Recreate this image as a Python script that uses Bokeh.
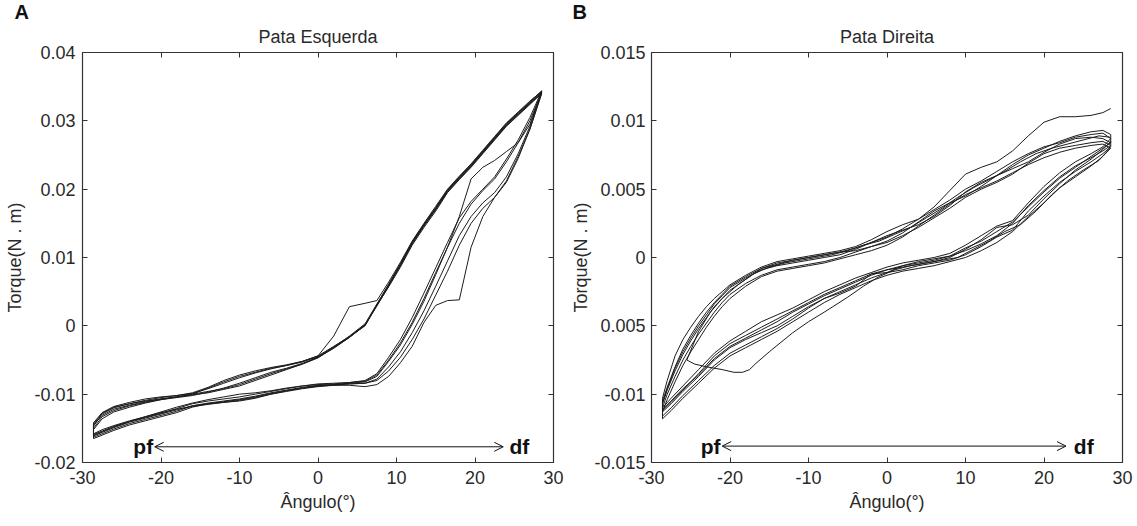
from bokeh.plotting import figure
from bokeh.layouts import row
from bokeh.models import FixedTicker, LinearAxis, Label, Arrow, OpenHead, Range1d, Title
from bokeh.embed import file_html
from bokeh.resources import INLINE

FONT = "Liberation Sans"
INK = "#1c1c1c"
FRAME = "#333333"
TXT = "#2a2a2a"

# ---------------- Panel A: Pata Esquerda ----------------
angle_out_A = [-28.6, -27.5, -26, -24, -22, -20, -18, -16, -14, -12, -10, -8, -6, -4, -2, 0, 2, 4, 6,
               7.5, 9, 10.5, 12, 13.5, 15, 16.5, 18, 19.5, 21, 22.5, 24, 25.5, 27, 28.5]
angle_ret_A = [28.5, 27, 25.5, 24, 22.5, 21, 19.5, 18, 16.5, 15, 13.5, 12, 10.5, 9, 7.5, 6, 4, 2, 0,
               -2, -4, -6, -8, -10, -12, -14, -16, -18, -20, -22, -24, -26, -27.5, -28.6]

torque_out_A1 = [-0.0160, -0.0155, -0.0148, -0.0140, -0.0134, -0.0128, -0.0121, -0.0114, -0.0110, -0.0107,
                 -0.0104, -0.0100, -0.0096, -0.0092, -0.0088, -0.0085, -0.0084, -0.0083, -0.0081, -0.0072,
                 -0.0050, -0.0025, 0.0005, 0.0040, 0.0078, 0.0115, 0.0150, 0.0178, 0.0198, 0.0215,
                 0.0240, 0.0268, 0.0300, 0.0342]
torque_out_A2 = [-0.0163, -0.0158, -0.0151, -0.0143, -0.0137, -0.0131, -0.0125, -0.0117, -0.0113, -0.0110,
                 -0.0107, -0.0103, -0.0098, -0.0094, -0.0090, -0.0087, -0.0086, -0.0085, -0.0084, -0.0078,
                 -0.0060, -0.0038, -0.0010, 0.0022, 0.0058, 0.0095, 0.0132, 0.0160, 0.0180, 0.0195,
                 0.0218, 0.0252, 0.0292, 0.0343]
torque_out_A3 = [-0.0158, -0.0152, -0.0146, -0.0139, -0.0133, -0.0127, -0.0122, -0.0118, -0.0115, -0.0112,
                 -0.0110, -0.0106, -0.0100, -0.0095, -0.0091, -0.0088, -0.0087, -0.0087, -0.0089, -0.0086,
                 -0.0074, -0.0054, -0.0030, 0.0005, 0.0030, 0.0037, 0.0038, 0.0115, 0.0160, 0.0188,
                 0.0212, 0.0248, 0.0288, 0.0340]
torque_out_A4 = [-0.0165, -0.0160, -0.0153, -0.0145, -0.0139, -0.0133, -0.0127, -0.0119, -0.0114, -0.0111,
                 -0.0108, -0.0104, -0.0099, -0.0095, -0.0091, -0.0088, -0.0086, -0.0084, -0.0082, -0.0074,
                 -0.0052, -0.0028, 0.0002, 0.0036, 0.0075, 0.0115, 0.0160, 0.0215, 0.0232, 0.0242,
                 0.0255, 0.0268, 0.0295, 0.0343]
torque_out_A5 = [-0.0161, -0.0156, -0.0149, -0.0141, -0.0135, -0.0129, -0.0123, -0.0117, -0.0114, -0.0112,
                 -0.0109, -0.0105, -0.0100, -0.0096, -0.0092, -0.0089, -0.0087, -0.0085, -0.0084, -0.0080,
                 -0.0066, -0.0046, -0.0020, 0.0010, 0.0045, 0.0080, 0.0118, 0.0150, 0.0172, 0.0188,
                 0.0210, 0.0245, 0.0288, 0.0341]
torque_out_A6 = [-0.0159, -0.0154, -0.0147, -0.0140, -0.0133, -0.0126, -0.0119, -0.0113, -0.0108, -0.0104,
                 -0.0100, -0.0098, -0.0095, -0.0091, -0.0088, -0.0086, -0.0085, -0.0083, -0.0080, -0.0070,
                 -0.0046, -0.0020, 0.0012, 0.0048, 0.0085, 0.0122, 0.0158, 0.0182, 0.0200, 0.0218,
                 0.0244, 0.0272, 0.0305, 0.0344]

torque_ret_A1 = [0.0342, 0.0326, 0.0309, 0.0293, 0.0273, 0.0253, 0.0233, 0.0215, 0.0196, 0.0170,
                 0.0146, 0.0120, 0.0089, 0.0060, 0.0032, 0.0003, -0.0015, -0.0031, -0.0045, -0.0053,
                 -0.0058, -0.0063, -0.0069, -0.0076, -0.0084, -0.0092, -0.0099, -0.0102, -0.0105, -0.0109,
                 -0.0114, -0.0120, -0.0129, -0.0147]
torque_ret_A2 = [0.0343, 0.0327, 0.0311, 0.0295, 0.0276, 0.0256, 0.0236, 0.0218, 0.0199, 0.0173,
                 0.0149, 0.0123, 0.0091, 0.0061, 0.0031, 0.0001, -0.0017, -0.0033, -0.0046, -0.0055,
                 -0.0062, -0.0068, -0.0076, -0.0084, -0.0091, -0.0097, -0.0102, -0.0105, -0.0108, -0.0112,
                 -0.0117, -0.0124, -0.0133, -0.0150]
torque_ret_A3 = [0.0340, 0.0324, 0.0308, 0.0292, 0.0272, 0.0252, 0.0232, 0.0214, 0.0195, 0.0168,
                 0.0144, 0.0118, 0.0086, 0.0057, 0.0030, 0.0000, -0.0016, -0.0032, -0.0047, -0.0056,
                 -0.0064, -0.0072, -0.0080, -0.0088, -0.0093, -0.0098, -0.0101, -0.0104, -0.0107, -0.0111,
                 -0.0116, -0.0122, -0.0131, -0.0145]
torque_ret_A4 = [0.0343, 0.0329, 0.0313, 0.0297, 0.0277, 0.0257, 0.0237, 0.0219, 0.0200, 0.0175,
                 0.0150, 0.0124, 0.0093, 0.0064, 0.0037, 0.0033, 0.0028, -0.0015, -0.0044, -0.0052,
                 -0.0057, -0.0061, -0.0066, -0.0072, -0.0080, -0.0090, -0.0098, -0.0102, -0.0104, -0.0107,
                 -0.0112, -0.0118, -0.0127, -0.0142]
torque_ret_A5 = [0.0341, 0.0325, 0.0310, 0.0294, 0.0274, 0.0254, 0.0234, 0.0216, 0.0197, 0.0171,
                 0.0147, 0.0121, 0.0088, 0.0059, 0.0030, 0.0001, -0.0017, -0.0032, -0.0046, -0.0056,
                 -0.0063, -0.0070, -0.0078, -0.0086, -0.0092, -0.0096, -0.0100, -0.0104, -0.0108, -0.0113,
                 -0.0119, -0.0126, -0.0136, -0.0152]
torque_ret_A6 = [0.0344, 0.0328, 0.0312, 0.0296, 0.0275, 0.0255, 0.0235, 0.0217, 0.0198, 0.0172,
                 0.0148, 0.0122, 0.0090, 0.0058, 0.0029, 0.0002, -0.0016, -0.0030, -0.0044, -0.0052,
                 -0.0058, -0.0062, -0.0068, -0.0074, -0.0082, -0.0091, -0.0100, -0.0104, -0.0107, -0.0110,
                 -0.0114, -0.0119, -0.0128, -0.0144]

# ---------------- Panel B: Pata Direita ----------------
angle_ret_B = [28.5, 27.5, 26, 24, 22, 20, 18, 16, 14, 12, 10, 8, 6, 4, 2, 0, -2, -4, -6, -8,
               -10, -12, -14, -16, -18, -20, -21, -22, -23, -24, -25, -26, -27, -28, -28.6]
angle_out_B = [-28.6, -27.5, -26, -24, -22, -20, -18, -16, -14, -12, -10, -8, -6, -4, -2, 0, 2, 4, 6, 8,
               10, 12, 14, 16, 18, 20, 22, 24, 26, 27.5, 28.5]

torque_ret_B1 = [0.0084, 0.0087, 0.0088, 0.0087, 0.0083, 0.0077, 0.0070, 0.0065, 0.0060, 0.0055,
                 0.0048, 0.0038, 0.0030, 0.0024, 0.0020, 0.0016, 0.0011, 0.0006, 0.0002, 0.0000,
                 -0.0002, -0.0004, -0.0006, -0.0009, -0.0015, -0.0022, -0.0028, -0.0034, -0.0042, -0.0050,
                 -0.0059, -0.0069, -0.0081, -0.0096, -0.0107]
torque_ret_B2 = [0.0090, 0.0093, 0.0092, 0.0089, 0.0085, 0.0080, 0.0075, 0.0068, 0.0060, 0.0052,
                 0.0045, 0.0040, 0.0034, 0.0026, 0.0018, 0.0012, 0.0008, 0.0005, 0.0004, 0.0002,
                 0.0000, -0.0002, -0.0005, -0.0008, -0.0014, -0.0021, -0.0027, -0.0033, -0.0040, -0.0048,
                 -0.0057, -0.0067, -0.0080, -0.0095, -0.0105]
torque_ret_B3 = [0.0082, 0.0085, 0.0084, 0.0082, 0.0080, 0.0076, 0.0069, 0.0061, 0.0055, 0.0050,
                 0.0044, 0.0036, 0.0029, 0.0022, 0.0016, 0.0011, 0.0008, 0.0004, 0.0000, -0.0003,
                 -0.0005, -0.0007, -0.0009, -0.0013, -0.0019, -0.0027, -0.0033, -0.0040, -0.0048, -0.0056,
                 -0.0065, -0.0075, -0.0087, -0.0100, -0.0110]
torque_ret_B4 = [0.0087, 0.0091, 0.0090, 0.0088, 0.0084, 0.0081, 0.0076, 0.0070, 0.0063, 0.0056,
                 0.0050, 0.0042, 0.0035, 0.0028, 0.0024, 0.0019, 0.0013, 0.0008, 0.0005, 0.0003,
                 0.0001, -0.0001, -0.0003, -0.0007, -0.0013, -0.0020, -0.0025, -0.0030, -0.0036, -0.0043,
                 -0.0051, -0.0060, -0.0072, -0.0090, -0.0103]
torque_ret_B5 = [0.0080, 0.0083, 0.0082, 0.0080, 0.0077, 0.0073, 0.0068, 0.0062, 0.0056, 0.0051,
                 0.0046, 0.0039, 0.0031, 0.0023, 0.0015, 0.0009, 0.0005, 0.0002, -0.0001, -0.0004,
                 -0.0006, -0.0008, -0.0010, -0.0014, -0.0021, -0.0030, -0.0036, -0.0043, -0.0051, -0.0060,
                 -0.0069, -0.0079, -0.0091, -0.0104, -0.0113]
torque_ret_B7 = [0.0109, 0.0106, 0.0104, 0.0103, 0.0103, 0.0099, 0.0089, 0.0078, 0.0070, 0.0066,
                 0.0061, 0.0049, 0.0037, 0.0028, 0.0021, 0.0015, 0.0011, 0.0007, 0.0004, 0.0002,
                 0.0000, -0.0002, -0.0004, -0.0008, -0.0016, -0.0024, -0.0030, -0.0036, -0.0044, -0.0052,
                 -0.0061, -0.0071, -0.0083, -0.0097, -0.0107]

torque_out_B1 = [-0.0112, -0.0106, -0.0097, -0.0085, -0.0072, -0.0063, -0.0057, -0.0051, -0.0045, -0.0039,
                 -0.0033, -0.0027, -0.0022, -0.0017, -0.0012, -0.0009, -0.0007, -0.0005, -0.0003, 0.0000,
                 0.0006, 0.0013, 0.0022, 0.0024, 0.0031, 0.0043, 0.0054, 0.0064, 0.0072, 0.0079, 0.0085]
torque_out_B2 = [-0.0116, -0.0110, -0.0101, -0.0090, -0.0079, -0.0070, -0.0064, -0.0058, -0.0052, -0.0045,
                 -0.0037, -0.0030, -0.0025, -0.0020, -0.0015, -0.0011, -0.0006, -0.0003, -0.0001, 0.0001,
                 0.0005, 0.0010, 0.0016, 0.0025, 0.0038, 0.0049, 0.0059, 0.0067, 0.0073, 0.0078, 0.0082]
torque_out_B3 = [-0.0113, -0.0107, -0.0098, -0.0087, -0.0075, -0.0066, -0.0060, -0.0055, -0.0050, -0.0043,
                 -0.0036, -0.0030, -0.0026, -0.0021, -0.0012, -0.0011, -0.0009, -0.0006, -0.0004, -0.0002,
                 0.0002, 0.0008, 0.0015, 0.0020, 0.0034, 0.0045, 0.0055, 0.0063, 0.0070, 0.0076, 0.0081]
torque_out_B4 = [-0.0110, -0.0103, -0.0094, -0.0082, -0.0070, -0.0061, -0.0054, -0.0047, -0.0042, -0.0037,
                 -0.0031, -0.0025, -0.0020, -0.0015, -0.0011, -0.0007, -0.0004, -0.0002, 0.0000, 0.0003,
                 0.0009, 0.0016, 0.0023, 0.0027, 0.0040, 0.0052, 0.0062, 0.0070, 0.0076, 0.0081, 0.0087]
torque_out_B5 = [-0.0118, -0.0112, -0.0103, -0.0092, -0.0081, -0.0072, -0.0066, -0.0060, -0.0054, -0.0047,
                 -0.0040, -0.0033, -0.0027, -0.0022, -0.0017, -0.0013, -0.0010, -0.0008, -0.0006, -0.0003,
                 0.0000, 0.0005, 0.0011, 0.0019, 0.0030, 0.0040, 0.0051, 0.0059, 0.0067, 0.0074, 0.0080]
torque_out_B7 = [-0.0111, -0.0105, -0.0096, -0.0086, -0.0074, -0.0065, -0.0059, -0.0053, -0.0047, -0.0040,
                 -0.0034, -0.0028, -0.0023, -0.0018, -0.0013, -0.0009, -0.0006, -0.0004, -0.0002, 0.0001,
                 0.0007, 0.0012, 0.0019, 0.0026, 0.0037, 0.0048, 0.0058, 0.0066, 0.0074, 0.0080, 0.0084]

# one cycle that reverses early (before reaching full plantar flexion)
angle_B6 = [28.4, 27, 25, 23, 21, 19, 17, 15, 13, 11, 9, 7, 5, 3, 1, -1, -3, -5, -7, -9,
            -11, -13, -15, -17, -19, -21, -22.5, -24, -25.5, -24.5, -23, -21, -19.5, -18.4, -17.5,
            -16.8, -15, -13.5, -12, -10, -8, -6.9, -5, -3, -1, 1, 3, 5, 7, 9, 11, 13, 15, 17, 19,
            21, 23, 25, 27, 28.4]
torque_B6 = [0.0088, 0.0089, 0.0086, 0.0083, 0.0080, 0.0076, 0.0070, 0.0063, 0.0057, 0.0051,
             0.0044, 0.0036, 0.0029, 0.0022, 0.0017, 0.0012, 0.0009, 0.0005, 0.0002, 0.0000,
             -0.0002, -0.0004, -0.0007, -0.0012, -0.0020, -0.0030, -0.0040, -0.0054, -0.0075,
             -0.0078, -0.0080, -0.0082, -0.0084, -0.0084, -0.0082, -0.0078, -0.0069, -0.0062, -0.0055,
             -0.0047, -0.0040, -0.0036, -0.0029, -0.0021, -0.0014, -0.0009, -0.0006, -0.0004, -0.0002,
             0.0000, 0.0006, 0.0012, 0.0019, 0.0024, 0.0034, 0.0046, 0.0056, 0.0064, 0.0071, 0.0080]

# ---------------- axes / text ----------------
x_ticks = [-30, -20, -10, 0, 10, 20, 30]
y_ticks_A = [-0.02, -0.01, 0.0, 0.01, 0.02, 0.03, 0.04]
y_labels_A = ["-0.02", "-0.01", "0", "0.01", "0.02", "0.03", "0.04"]
y_ticks_B = [-0.015, -0.01, -0.005, 0.0, 0.005, 0.01, 0.015]
y_labels_B = ["-0.015", "-0.01", "0.005", "0", "0.005", "0.01", "0.015"]
x_title = "Ângulo(°)"
y_title = "Torque(N . m)"

# annotation placement (data units of each panel)
arrow_A = dict(x0=-20.8, x1=23.6, y=-0.0177, pf_x=-21.0, df_x=24.4)
arrow_B = dict(x0=-21.0, x1=22.8, y=-0.0138, pf_x=-21.2, df_x=23.8)


def style_axis(ax, ticks, labels, show_labels):
    ax.ticker = FixedTicker(ticks=ticks)
    ax.major_tick_in = 5
    ax.major_tick_out = 0
    ax.minor_tick_line_color = None
    ax.major_tick_line_color = FRAME
    ax.axis_line_color = FRAME
    ax.major_label_text_font = FONT
    if show_labels:
        ax.major_label_text_color = TXT
        ax.major_label_text_font_size = "18px"
        ax.major_label_overrides = {t: s for t, s in zip(ticks, labels)}
    else:
        ax.major_label_text_color = None
        ax.major_label_text_font_size = "1px"
        ax.major_label_standoff = 0


def make_panel(title, letter, letter_offset, y_rng, y_ticks, y_labels, loops, ann,
               border_left, border_right, ylab_standoff, tick_standoff):
    p = figure(x_range=Range1d(-30, 30), y_range=Range1d(*y_rng),
               frame_width=471, frame_height=410,
               min_border_left=border_left, min_border_right=border_right,
               min_border_top=52, min_border_bottom=64,
               output_backend="svg", toolbar_location=None, title=None,
               x_axis_location=None, y_axis_location=None)
    p.grid.visible = False
    p.outline_line_color = FRAME
    p.outline_line_width = 1.2
    p.background_fill_color = "white"
    p.border_fill_color = "white"

    for xs, ys in loops:
        p.line(xs, ys, line_color=INK, line_width=1)

    bottom = LinearAxis(axis_label=x_title)
    style_axis(bottom, x_ticks, [str(t) for t in x_ticks], True)
    bottom.major_label_standoff = 8
    bottom.axis_label_text_font = FONT
    bottom.axis_label_text_font_style = "normal"
    bottom.axis_label_text_font_size = "18px"
    bottom.axis_label_text_color = TXT
    bottom.axis_label_standoff = 5
    p.add_layout(bottom, "below")

    left = LinearAxis(axis_label=y_title)
    style_axis(left, y_ticks, y_labels, True)
    left.major_label_standoff = tick_standoff
    left.axis_label_text_font = FONT
    left.axis_label_text_font_style = "normal"
    left.axis_label_text_font_size = "18px"
    left.axis_label_text_color = TXT
    left.axis_label_standoff = ylab_standoff
    p.add_layout(left, "left")

    top = LinearAxis()
    style_axis(top, x_ticks, None, False)
    p.add_layout(top, "above")

    right = LinearAxis()
    style_axis(right, y_ticks, None, False)
    p.add_layout(right, "right")

    p.add_layout(Title(text=title, align="center", text_font=FONT, text_font_style="normal",
                       text_font_size="18px", text_color=TXT, standoff=12), "above")
    p.add_layout(Title(text=letter, align="left", offset=letter_offset, text_font=FONT,
                       text_font_style="bold", text_font_size="20px", text_color="#111111",
                       standoff=-9), "above")

    p.add_layout(Arrow(x_start=ann["x0"], y_start=ann["y"], x_end=ann["x1"], y_end=ann["y"],
                       line_color="#111111", line_width=1,
                       start=OpenHead(size=9, line_width=1, line_color="#111111"),
                       end=OpenHead(size=9, line_width=1, line_color="#111111")))
    p.add_layout(Label(x=ann["pf_x"], y=ann["y"], text="pf", text_align="right",
                       text_baseline="middle", text_font=FONT, text_font_style="bold",
                       text_font_size="21px", text_color="#111111"))
    p.add_layout(Label(x=ann["df_x"], y=ann["y"], text="df", text_align="left",
                       text_baseline="middle", text_font=FONT, text_font_style="bold",
                       text_font_size="21px", text_color="#111111"))
    return p


loops_A = []
for t_out, t_ret in [(torque_out_A1, torque_ret_A1), (torque_out_A2, torque_ret_A2),
                     (torque_out_A3, torque_ret_A3), (torque_out_A4, torque_ret_A4),
                     (torque_out_A5, torque_ret_A5), (torque_out_A6, torque_ret_A6)]:
    xs = angle_out_A + angle_ret_A + [angle_out_A[0]]
    ys = t_out + t_ret + [t_out[0]]
    loops_A.append((xs, ys))

loops_B = []
for t_ret, t_out in [(torque_ret_B1, torque_out_B1), (torque_ret_B2, torque_out_B2),
                     (torque_ret_B3, torque_out_B3), (torque_ret_B4, torque_out_B4),
                     (torque_ret_B5, torque_out_B5)]:
    xs = angle_ret_B + angle_out_B + [angle_ret_B[0]]
    ys = t_ret + t_out + [t_ret[0]]
    loops_B.append((xs, ys))
loops_B.append((angle_ret_B + angle_out_B, torque_ret_B7 + torque_out_B7))
loops_B.append((angle_B6, torque_B6))

# left figure: 82 + 471 + 11 = 564 px ; right figure: 87 + 471 + 15 = 573 px
pA = make_panel("Pata Esquerda", "A", -68, (-0.02, 0.04), y_ticks_A, y_labels_A, loops_A, arrow_A,
                82, 11, 6, 7)
pB = make_panel("Pata Direita", "B", -79, (-0.015, 0.015), y_ticks_B, y_labels_B, loops_B, arrow_B,
                87, 15, 0, 6)

layout = row(pA, pB, spacing=0)
open("out.html", "w").write(file_html(layout, INLINE))
